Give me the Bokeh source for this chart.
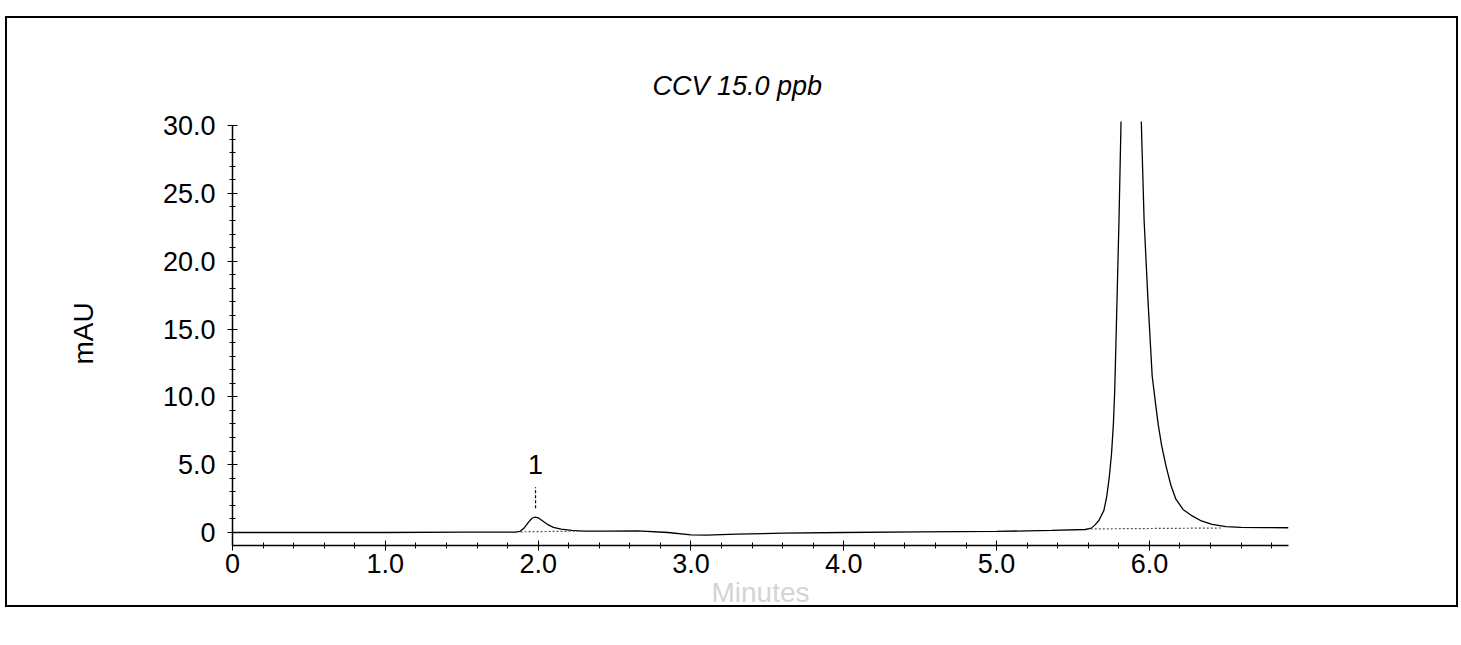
from bokeh.plotting import figure
from bokeh.models import Range1d, PrintfTickFormatter, SingleIntervalTicker
from bokeh.core.properties import value
from bokeh.embed import file_html
from bokeh.resources import INLINE

title_text = "CCV 15.0 ppb"
y_label = "mAU"
x_label = "Minutes"

# Chromatogram trace: retention time (min) and detector response (mAU)
time_min = [0.0, 0.5, 1.0, 1.5, 1.85, 1.88, 1.91, 1.94, 1.96, 1.98, 2.00,
            2.03, 2.06, 2.10, 2.15, 2.22, 2.30, 2.45, 2.65, 2.85, 3.0, 3.1,
            3.3, 3.6, 4.0, 4.5, 5.0, 5.36, 5.58, 5.62, 5.646, 5.67, 5.702,
            5.72, 5.737, 5.752, 5.764, 5.773, 5.781, 5.801, 5.814, 5.87,
            5.947, 5.965, 5.991, 6.018, 6.04, 6.058, 6.08, 6.109, 6.14,
            6.173, 6.22, 6.28, 6.34, 6.41, 6.50, 6.6, 6.75, 6.91]
signal_mau = [0.0, 0.0, 0.0, 0.02, 0.03, 0.08, 0.35, 0.8, 1.05, 1.14, 1.08,
              0.85, 0.6, 0.38, 0.24, 0.15, 0.1, 0.1, 0.12, 0.0, -0.18, -0.2,
              -0.12, -0.05, 0.0, 0.05, 0.08, 0.15, 0.22, 0.32, 0.58, 0.9,
              1.63, 2.6, 4.05, 5.8, 7.97, 10.5, 14.0, 23.1, 30.2, 60.6,
              30.15, 23.05, 17.0, 11.54, 9.5, 7.91, 6.4, 4.88, 3.5,
              2.45, 1.7, 1.22, 0.85, 0.6, 0.43, 0.38, 0.36, 0.35]

# Integration baselines drawn under the detected peaks
base_x0 = [1.885, 5.59]
base_y0 = [0.05, 0.26]
base_x1 = [2.28, 6.47]
base_y1 = [0.1, 0.33]

# Peak annotation
peak_names = ["1"]
peak_times = [1.983]
peak_label_y = [5.0]
peak_tick_lo = [1.78]
peak_tick_hi = [3.33]

FONT = "Liberation Sans"

# Printed-report frame: four thin rules painted behind a transparent canvas
frame_css = ", ".join([
    "linear-gradient(#000,#000) 5px 16px / 1453px 2px no-repeat",
    "linear-gradient(#000,#000) 5px 605px / 1453px 2px no-repeat",
    "linear-gradient(#000,#000) 5px 16px / 2px 591px no-repeat",
    "linear-gradient(#000,#000) 1456px 16px / 2px 591px no-repeat",
    "#ffffff",
])

p = figure(width=1461, height=645, output_backend="svg", toolbar_location=None,
           x_range=Range1d(0, 6.91), y_range=Range1d(-0.96, 30.3),
           min_border_left=232, min_border_right=173,
           min_border_top=121, min_border_bottom=100,
           styles={"background": frame_css})
p.outline_line_color = None
p.xgrid.visible = False
p.ygrid.visible = False
p.background_fill_alpha = 0
p.border_fill_alpha = 0

# Title
p.title.text = title_text
p.title.align = "left"
p.title.offset = 420
p.title.text_font = FONT
p.title.text_font_style = "italic"
p.title.text_font_size = "27px"
p.title.text_color = "black"
p.title.standoff = 42

# Axes
for ax in (p.xaxis[0], p.yaxis[0]):
    ax.axis_line_color = "black"
    ax.axis_line_width = 1.5
    ax.major_tick_line_color = "black"
    ax.minor_tick_line_color = "black"
    ax.major_tick_in = 5
    ax.major_tick_out = 5
    ax.minor_tick_in = 3
    ax.minor_tick_out = 3
    ax.major_label_text_font = FONT
    ax.major_label_text_font_size = "27px"
    ax.major_label_text_color = "black"
    ax.formatter = PrintfTickFormatter(format="%.1f")
    ax.major_label_overrides = {0: "0"}
    ax.axis_label_text_font = FONT
    ax.axis_label_text_font_style = "normal"
    ax.axis_label_text_font_size = "28px"

p.xaxis.ticker = SingleIntervalTicker(interval=1, num_minor_ticks=5)
p.yaxis.ticker = SingleIntervalTicker(interval=5, num_minor_ticks=5)
p.yaxis.bounds = (-0.96, 30)
p.xaxis.major_label_standoff = 3
p.yaxis.major_label_standoff = 12

p.yaxis.axis_label = y_label
p.yaxis.axis_label_text_color = "black"
p.yaxis.axis_label_standoff = 61
p.xaxis.axis_label = x_label
p.xaxis.axis_label_text_color = "#d4d4d4"
p.xaxis.axis_label_standoff = 1

# Trace
p.line(time_min, signal_mau, line_color="black", line_width=1.3)

# Integration baselines
p.segment(x0=base_x0, y0=base_y0, x1=base_x1, y1=base_y1,
          line_color="#555555", line_width=1.2, line_dash="2 2")

# Peak marker and number
p.segment(x0=peak_times, y0=peak_tick_lo, x1=peak_times, y1=peak_tick_hi,
          line_color="black", line_width=1.2, line_dash="3 2")
p.text(x=peak_times, y=peak_label_y, text=peak_names,
       text_font=value(FONT), text_font_size="27px", text_color="black",
       text_align="center", text_baseline="alphabetic")

open("out.html", "w").write(file_html(p, INLINE))
